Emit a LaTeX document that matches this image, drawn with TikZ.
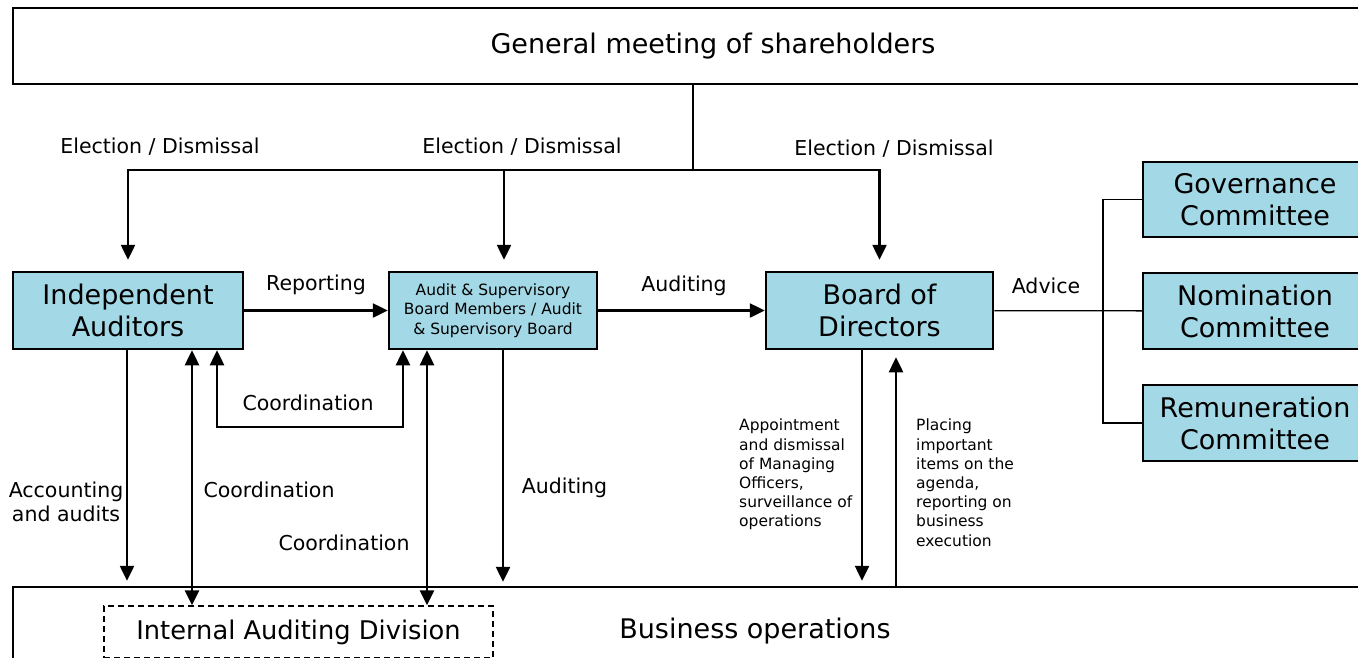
\documentclass[tikz,border=0pt]{standalone}
\usepackage{fontspec}
\setmainfont{DejaVu Sans}
\usepackage{tikz}
\usetikzlibrary{arrows.meta,positioning,calc}

\definecolor{orgblue}{RGB}{163,216,230}

\begin{document}
\begin{tikzpicture}
	% Styles
	[
	x=1pt, y=-1pt,
	unit/.style={rectangle,draw=black,fill=orgblue,line width=2.5pt,inner sep=0pt,align=center,font=\fontsize{27}{32}\selectfont},
	frame/.style={rectangle,draw=black,line width=2.5pt,inner sep=0pt},
	lbl/.style={inner sep=0pt,align=center,font=\fontsize{20.5}{24}\selectfont},
	note/.style={inner sep=0pt,align=left,anchor=north west,font=\fontsize{15.5}{19.2}\selectfont},
	link/.style={line width=2.5pt,-{Triangle[length=15pt,width=14pt]}},
	both/.style={line width=2.5pt,{Triangle[length=15pt,width=14pt]}-{Triangle[length=15pt,width=14pt]}},
	rule/.style={line width=1.3pt},
	]
	\useasboundingbox (0,0) rectangle (1358,657);
	\clip (0,0) rectangle (1358,657);

	% Nodes
	\node at (713,46)	(gms)	[frame,minimum width=1400pt,minimum height=76pt,font=\fontsize{27}{32}\selectfont] {General meeting of shareholders};
	\node at (128,310.5)	(ia)	[unit,minimum width=230pt,minimum height=77pt] {Independent\\Auditors};
	\node at (493,310.5)	(asb)	[unit,minimum width=208pt,minimum height=77pt,font=\fontsize{15.5}{19.5}\selectfont] {Audit \& Supervisory\\Board Members / Audit\\\& Supervisory Board};
	\node at (879.5,310.5)	(bod)	[unit,minimum width=227pt,minimum height=77pt] {Board of\\Directors};
	\node at (1255,199.5)	(gov)	[unit,minimum width=224pt,minimum height=75pt] {Governance\\Committee};
	\node at (1255,311)	(nom)	[unit,minimum width=224pt,minimum height=76pt] {Nomination\\Committee};
	\node at (1255,423)	(rem)	[unit,minimum width=224pt,minimum height=76pt] {Remuneration\\Committee};
	\node at (713,630)	(ops)	[frame,minimum width=1400pt,minimum height=86pt] {};
	\node at (755,631)	(opstext)	[lbl,font=\fontsize{27}{32}\selectfont] {Business operations};
	\node at (298.5,632)	(iad)	[rectangle,draw=black,line width=1.4pt,dash pattern=on 6pt off 4pt,minimum width=389pt,minimum height=52pt,font=\fontsize{25.7}{30}\selectfont] {Internal Auditing Division};

	% Labels
	\node at (160,147)	(el1)	[lbl] {Election / Dismissal};
	\node at (522,147)	(el2)	[lbl] {Election / Dismissal};
	\node at (894,149)	(el3)	[lbl] {Election / Dismissal};
	\node at (316,285)	(rep)	[lbl] {Reporting};
	\node at (684,286)	(aud1)	[lbl] {Auditing};
	\node at (1046,286)	(adv)	[lbl] {Advice};
	\node at (308,403)	(co1)	[lbl] {Coordination};
	\node at (66,502)	(acc)	[lbl] {Accounting\\and audits};
	\node at (269,490)	(co2)	[lbl] {Coordination};
	\node at (344,543)	(co3)	[lbl] {Coordination};
	\node at (564.5,488)	(aud2)	[lbl] {Auditing};
	\node at (739,419)	(appt)	[note] {Appointment\\and dismissal\\of Managing\\Officers,\\surveillance of\\operations};
	\node at (916,419)	(plc)	[note] {Placing\\important\\items on the\\agenda,\\reporting on\\business\\execution};

	% Connections
	\coordinate (split) at (693,170);
	\coordinate (fork) at (1103,311);
	\coordinate (co) at (310,427);
	\draw[rule] (gms.south -| split) -- (split);
	\draw[link,shorten >=11pt] (split) -| (ia.north);
	\draw[link,shorten >=11pt] (split) -| ([xshift=11pt]asb.north);
	\draw[link,shorten >=11pt] (split) -| (bod.north);
	\draw[link] (ia) -- (asb);
	\draw[link] (asb) -- (bod);
	\draw[rule] (bod) -- (nom);
	\draw[rule] (gov.west) -| (fork) |- (rem.west);

	\draw[link,shorten >=5pt] ([xshift=-1pt]ia.south) -- ([xshift=-1pt]ia.south |- ops.north);
	\draw[both] ([xshift=64pt]ia.south) -- ([xshift=64pt]ia.south |- iad.north);
	\draw[both] ([xshift=89pt]ia.south) |- (co) -| ([xshift=-90pt]asb.south);
	\draw[both] ([xshift=-66pt]asb.south) -- ([xshift=-66pt]asb.south |- iad.north);
	\draw[link,shorten >=4pt] ([xshift=10pt]asb.south) -- ([xshift=10pt]asb.south |- ops.north);
	\draw[link,shorten >=5pt] ([xshift=-17.5pt]bod.south) -- ([xshift=-17.5pt]bod.south |- ops.north);
	\draw[link,shorten >=7pt] ([xshift=16.5pt]bod.south |- ops.north) -- ([xshift=16.5pt]bod.south);

\end{tikzpicture}
\end{document}
